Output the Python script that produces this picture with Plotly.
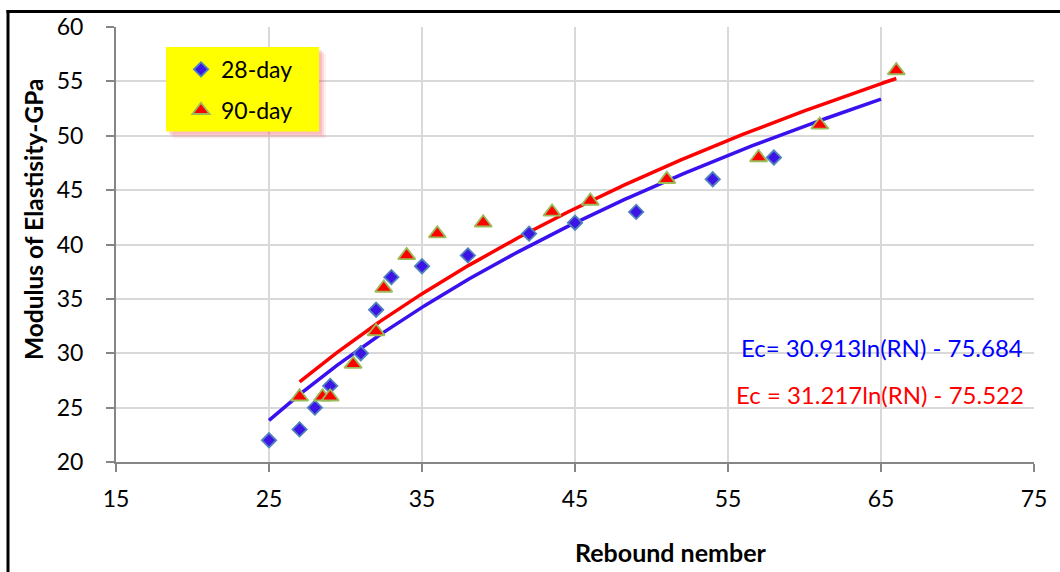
import numpy as np
import plotly.graph_objects as go

# Rebound number vs. modulus of elasticity, two curing ages
rn_28 = [25, 27, 28, 29, 31, 32, 33, 35, 38, 42, 45, 49, 54, 58]
ec_28 = [22, 23, 25, 27, 30, 34, 37, 38, 39, 41, 42, 43, 46, 48]

rn_90 = [27, 28.5, 29, 30.5, 32, 32.5, 34, 36, 39, 43.5, 46, 51, 57, 61, 66]
ec_90 = [26, 26, 26, 29, 32, 36, 39, 41, 42, 43, 44, 46, 48, 51, 56]

# Logarithmic trendlines: Ec = a*ln(RN) + b
fit_28 = {"a": 30.913, "b": -75.684, "x0": 25, "x1": 65}
fit_90 = {"a": 31.217, "b": -75.522, "x0": 27, "x1": 66}

x_ticks = [15, 25, 35, 45, 55, 65, 75]
y_ticks = [20, 25, 30, 35, 40, 45, 50, 55, 60]

FONT = "Lato"
W, H = 1060, 572
ML, MR, MT, MB = 116, 26, 25, 110
PW, PH = W - ML - MR, H - MT - MB


def px(x):
    return (x - ML) / PW


def py(y):
    return (H - MB - y) / PH


def trend(fit):
    xs = np.linspace(fit["x0"], fit["x1"], 200)
    return xs, fit["a"] * np.log(xs) + fit["b"]


fig = go.Figure()

tx, ty = trend(fit_28)
fig.add_trace(go.Scatter(x=tx, y=ty, mode="lines", showlegend=False,
                         line=dict(color="#3a10ee", width=3.5), hoverinfo="skip"))
tx, ty = trend(fit_90)
fig.add_trace(go.Scatter(x=tx, y=ty, mode="lines", showlegend=False,
                         line=dict(color="#ff0000", width=3.5), hoverinfo="skip"))

fig.add_trace(go.Scatter(
    x=rn_28, y=ec_28, mode="markers", name="28-day", legendgroup="a",
    marker=dict(symbol="diamond", size=11, color="#3d14e6",
                line=dict(color="#4f81bd", width=1.8))))
fig.add_trace(go.Scatter(
    x=rn_90, y=ec_90, mode="markers", name="90-day", legendgroup="b",
    marker=dict(symbol="triangle-up", size=15, color="#ff0000",
                line=dict(color="#9bbb59", width=1.8))))

fmt = lambda f: f"{f['a']:.3f}ln(RN) - {-f['b']:.3f}"
fig.add_annotation(x=px(1025), y=py(347), xref="paper", yref="paper",
                   text="Ec= " + fmt(fit_28), showarrow=False,
                   xanchor="right", yanchor="middle",
                   font=dict(family=FONT, size=24, color="#0000ff"))
fig.add_annotation(x=px(1026), y=py(394), xref="paper", yref="paper",
                   text="Ec = " + fmt(fit_90), showarrow=False,
                   xanchor="right", yanchor="middle",
                   font=dict(family=FONT, size=24, color="#ff0000"))

# axis titles
fig.add_annotation(x=px(671), y=py(552), xref="paper", yref="paper",
                   text="<b>Rebound nember</b>", showarrow=False,
                   xanchor="center", yanchor="middle",
                   font=dict(family=FONT, size=25, color="black"))
fig.add_annotation(x=px(33), y=py(218), xref="paper", yref="paper",
                   text="<b>Modulus of Elastisity-GPa</b>", showarrow=False,
                   textangle=-90, xanchor="center", yanchor="middle",
                   font=dict(family=FONT, size=24.5, color="black"))

shapes = []
# soft shadow behind the legend box
for off, op in [(7, 0.08), (5, 0.12), (3, 0.18)]:
    shapes.append(dict(type="rect", xref="paper", yref="paper", layer="above",
                       x0=px(166 + off), x1=px(319 + off), y0=py(45 + off), y1=py(130 + off),
                       fillcolor=f"rgba(240,60,70,{op})", line=dict(width=0)))
shapes.append(dict(type="rect", xref="paper", yref="paper", layer="above",
                   x0=px(166), x1=px(319), y0=py(45), y1=py(130),
                   fillcolor="#ffff00", line=dict(width=0)))
# chart frame
shapes.append(dict(type="line", xref="paper", yref="paper",
                   x0=px(6.5), x1=px(1065), y0=py(9.5), y1=py(9.5),
                   line=dict(color="black", width=3)))
shapes.append(dict(type="line", xref="paper", yref="paper",
                   x0=px(8), x1=px(8), y0=py(8), y1=py(580),
                   line=dict(color="black", width=3)))

axis_common = dict(
    showgrid=True, gridcolor="#d9d9d9", gridwidth=2,
    showline=True, linecolor="#868686", linewidth=2,
    ticks="outside", ticklen=8, tickwidth=2, tickcolor="#868686",
    zeroline=False, tickfont=dict(family=FONT, size=23, color="black"),
)

fig.update_layout(
    width=W, height=H,
    margin=dict(l=ML, r=MR, t=MT, b=MB),
    paper_bgcolor="white", plot_bgcolor="white",
    font=dict(family=FONT),
    xaxis=dict(range=[15, 75], tickvals=x_ticks, ticklabelstandoff=7, **axis_common),
    yaxis=dict(range=[20, 60], tickvals=y_ticks, ticklabelstandoff=18, **axis_common),
    legend=dict(x=px(181), y=py(46), xanchor="left", yanchor="top",
                bgcolor="rgba(0,0,0,0)", font=dict(family=FONT, size=23, color="black"),
                traceorder="grouped", tracegroupgap=8),
    shapes=shapes,
)

fig.write_html("out.html")
